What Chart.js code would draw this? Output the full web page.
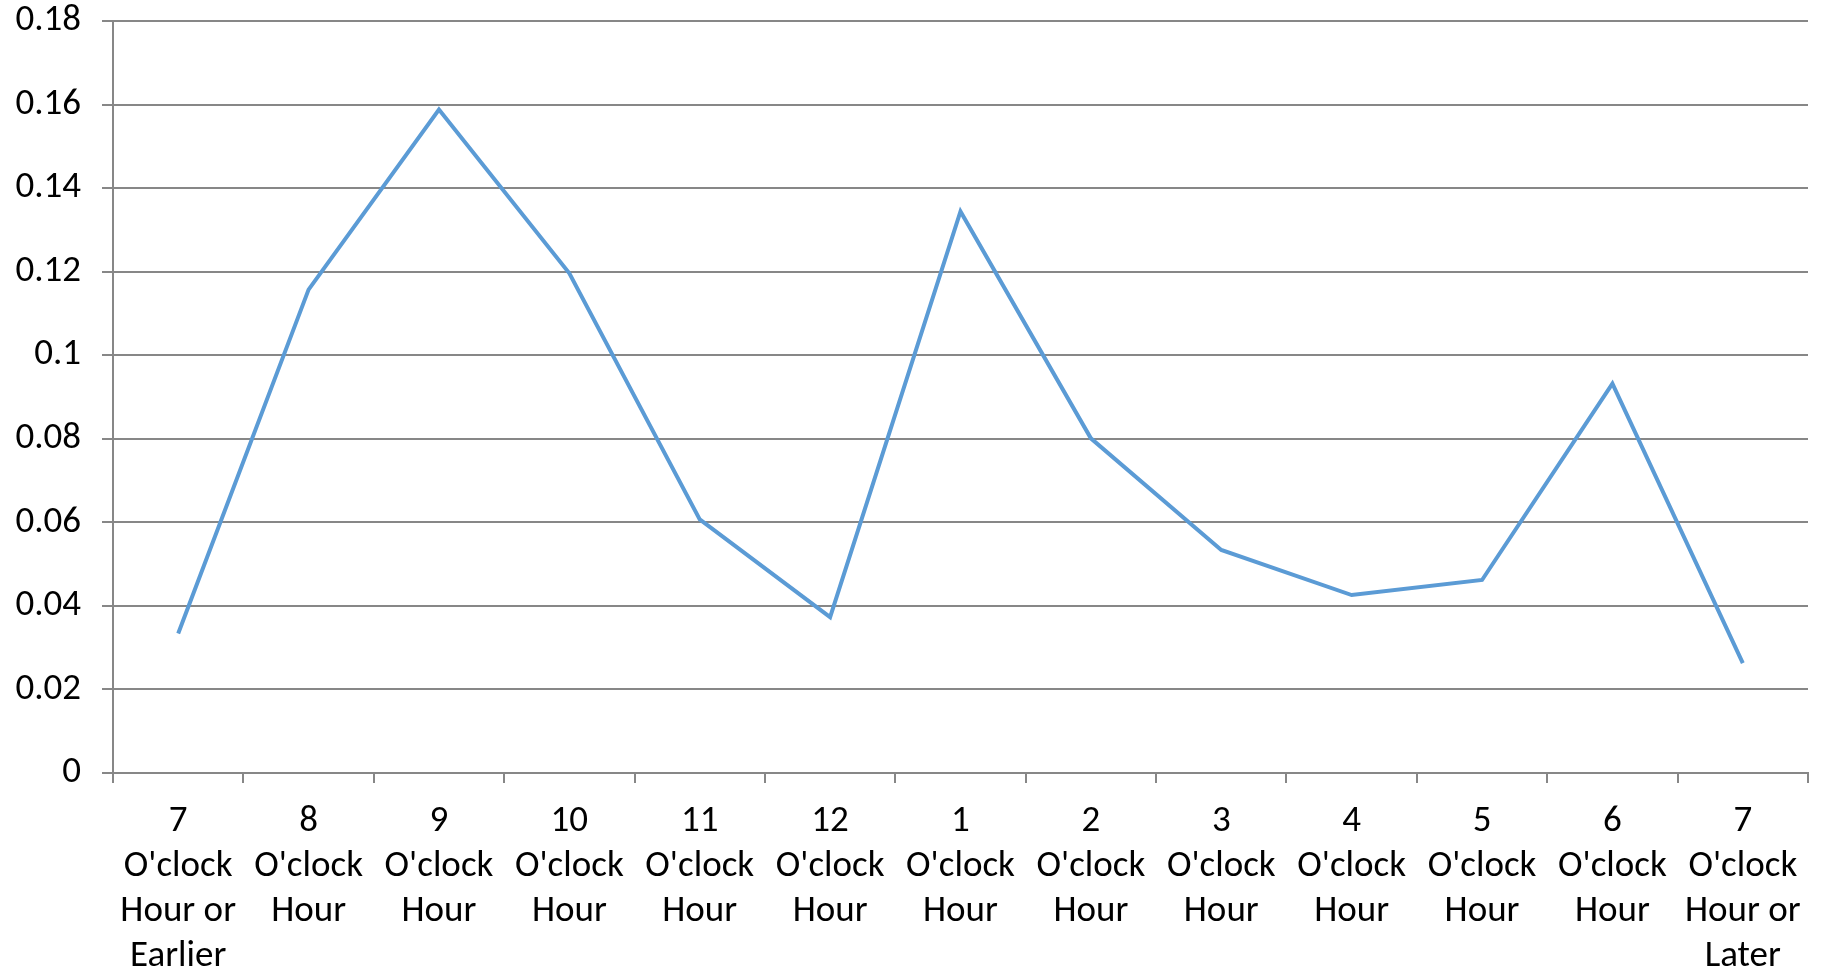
<!DOCTYPE html>
<html>
<head>
<meta charset="utf-8">
<script src="https://cdn.jsdelivr.net/npm/chart.js@4"></script>
<style>
    html, body { margin: 0; padding: 0; background: #fff; }
    #wrap { width: 1823px; height: 968px; position: relative; }
</style>
</head>
<body>
<div id="wrap"><canvas id="hourChart"></canvas></div>
<script>
// Chart data
const categories = [
    ['7', "O'clock", 'Hour or', 'Earlier'],
    ['8', "O'clock", 'Hour'],
    ['9', "O'clock", 'Hour'],
    ['10', "O'clock", 'Hour'],
    ['11', "O'clock", 'Hour'],
    ['12', "O'clock", 'Hour'],
    ['1', "O'clock", 'Hour'],
    ['2', "O'clock", 'Hour'],
    ['3', "O'clock", 'Hour'],
    ['4', "O'clock", 'Hour'],
    ['5', "O'clock", 'Hour'],
    ['6', "O'clock", 'Hour'],
    ['7', "O'clock", 'Hour or', 'Later']
];
const shares = [0.0334, 0.1157, 0.1588, 0.1196, 0.0607, 0.0373, 0.1344, 0.0801, 0.0534, 0.0426, 0.0462, 0.0932, 0.0263];
const yMin = 0;
const yMax = 0.18;
const yStep = 0.02;

const gridColor = '#878787';
const fontSpec = { family: 'Carlito, Calibri, Lato, sans-serif', size: 37, lineHeight: 1.22 };

Chart.defaults.font = fontSpec;
Chart.defaults.color = '#000';

// Initialize line chart
function initHourChart() {
    const ctx = document.getElementById('hourChart').getContext('2d');

    new Chart(ctx, {
        type: 'line',
        data: {
            labels: categories,
            datasets: [{
                data: shares,
                borderColor: '#5B9BD5',
                borderWidth: 4,
                pointRadius: 0,
                tension: 0,
                fill: false
            }]
        },
        options: {
            responsive: true,
            maintainAspectRatio: false,
            animation: false,
            layout: { padding: { top: 21, right: 15, left: 0, bottom: 0 } },
            plugins: {
                legend: { display: false },
                tooltip: { enabled: false }
            },
            scales: {
                x: {
                    offset: true,
                    grid: {
                        offset: true,
                        drawOnChartArea: false,
                        drawTicks: true,
                        tickLength: 10,
                        color: gridColor,
                        lineWidth: 2
                    },
                    border: { color: gridColor, width: 2 },
                    ticks: {
                        autoSkip: false,
                        maxRotation: 0,
                        minRotation: 0,
                        padding: 16,
                        color: '#000',
                        font: fontSpec
                    },
                    afterFit: (scale) => {
                        scale.height = 195;
                        scale.paddingLeft = 0;
                        scale.paddingRight = 0;
                    }
                },
                y: {
                    min: yMin,
                    max: yMax,
                    grid: {
                        color: gridColor,
                        lineWidth: 2,
                        drawTicks: true,
                        tickLength: 11
                    },
                    border: { color: gridColor, width: 2 },
                    ticks: {
                        stepSize: yStep,
                        padding: 21,
                        color: '#000',
                        font: fontSpec,
                        callback: (v) => String(+v.toFixed(2))
                    },
                    afterFit: (scale) => {
                        scale.width = 113;
                        scale.paddingTop = 0;
                        scale.paddingBottom = 0;
                    }
                }
            }
        }
    });
}

document.addEventListener('DOMContentLoaded', initHourChart);
</script>
</body>
</html>
